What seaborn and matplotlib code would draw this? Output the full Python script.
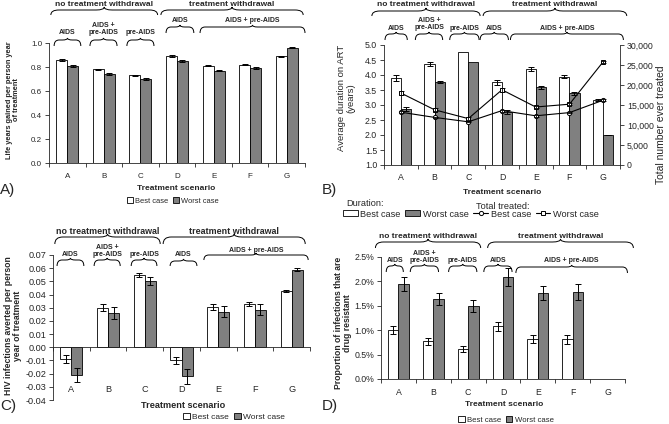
import numpy as np
import pandas as pd
import seaborn as sns
import matplotlib.pyplot as plt
from matplotlib.path import Path
from matplotlib.patches import PathPatch, Patch
from matplotlib.lines import Line2D
from matplotlib.transforms import Affine2D, blended_transform_factory
from matplotlib.ticker import FuncFormatter, MultipleLocator

W, H = 669, 424
GREY = '#808080'

scenarios = ['A', 'B', 'C', 'D', 'E', 'F', 'G']
cases = ['Best case', 'Worst case']

# A) life years gained per person year of treatment
life_best = [0.86, 0.78, 0.73, 0.89, 0.81, 0.82, 0.89]
life_worst = [0.81, 0.74, 0.70, 0.85, 0.77, 0.79, 0.96]
life_best_err = [0.008, 0.007, 0.005, 0.007, 0.005, 0.005, 0.004]
life_worst_err = [0.007, 0.006, 0.005, 0.010, 0.007, 0.006, 0.005]

# B) average duration on ART (years) and total number ever treated
dur_best = [3.90, 4.37, 4.76, 3.76, 4.20, 3.95, 3.17]
dur_worst = [2.87, 3.76, 4.42, 2.77, 3.59, 3.39, 2.00]
dur_best_err = [0.09, 0.07, np.nan, 0.08, 0.06, 0.04, 0.02]
dur_worst_err = [0.07, 0.04, np.nan, 0.07, 0.04, 0.04, 0.01]
treated_best = [13200, 11900, 10800, 13600, 12300, 13100, 16200]
treated_worst = [18000, 13800, 11600, 18800, 14500, 15200, 25800]
treated_best_err = [200, 200, 150, 250, 200, 200, 250]
treated_worst_err = [600, 400, 300, 500, 300, 300, 300]

# C) HIV infections averted per person year of treatment
inf_best = [-0.009, 0.030, 0.055, -0.010, 0.0305, 0.0325, 0.043]
inf_worst = [-0.021, 0.026, 0.050, -0.022, 0.027, 0.0285, 0.059]
inf_best_err = [0.003, 0.0025, 0.0015, 0.003, 0.002, 0.0015, 0.0008]
inf_worst_err = [0.0055, 0.0045, 0.003, 0.0058, 0.004, 0.004, 0.0015]

# D) proportion of infections that are drug resistant (%), nothing for G
res_best = [1.01, 0.77, 0.62, 1.08, 0.82, 0.81, np.nan]
res_worst = [1.95, 1.64, 1.49, 2.09, 1.76, 1.78, np.nan]
res_best_err = [0.085, 0.07, 0.06, 0.09, 0.08, 0.09, np.nan]
res_worst_err = [0.15, 0.13, 0.12, 0.18, 0.14, 0.16, np.nan]

sns.set_style('ticks')
plt.rcParams['font.family'] = ['Liberation Sans', 'DejaVu Sans']
plt.rcParams['axes.unicode_minus'] = False

fig = plt.figure(figsize=(W / 100, H / 100), dpi=100)
pix = Affine2D().scale(1 / W, -1 / H).translate(0, 1) + fig.transFigure


def px_axes(left, top, right, bottom):
    return fig.add_axes([left / W, 1 - bottom / H, (right - left) / W, (bottom - top) / H])


def fxy(x, y):
    return x / W, 1 - y / H


def long_df(best, worst, best_err, worst_err):
    df = pd.DataFrame({'scenario': scenarios * 2,
                       'case': np.repeat(cases, len(scenarios)),
                       'value': list(best) + list(worst),
                       'err': list(best_err) + list(worst_err)})
    return df.dropna(subset=['value'])


def bars(ax, df):
    sns.barplot(data=df, x='scenario', y='value', hue='case', order=scenarios, hue_order=cases,
                palette=['white', GREY], edgecolor='black', linewidth=0.6, width=0.6, gap=0,
                saturation=1, errorbar=None, legend=False, ax=ax)
    for case, cont in zip(cases, ax.containers):
        errs = df[df['case'] == case].set_index('scenario')['err']
        for rect in cont:
            cx = rect.get_x() + rect.get_width() / 2
            err = errs[scenarios[int(round(cx))]]
            if np.isnan(err):
                continue
            ax.errorbar(cx, rect.get_y() + rect.get_height(), yerr=err, fmt='none', ecolor='black',
                        elinewidth=0.7, capsize=2, capthick=0.7)


def style(ax, fs, pad):
    sns.despine(ax=ax)
    for s in ['left', 'bottom']:
        ax.spines[s].set_linewidth(0.6)
    ax.set_xlim(-0.5, 6.5)
    ax.set_xticks(range(len(scenarios)), scenarios)
    ax.set_xticks(np.arange(-0.5, len(scenarios)), minor=True)
    ax.tick_params(axis='x', which='major', length=0, pad=pad, labelsize=fs)
    ax.tick_params(axis='x', which='minor', length=3, width=0.6, direction='out')
    ax.tick_params(axis='y', length=3, width=0.6, direction='out', labelsize=fs, pad=2)
    ax.set_xlabel('')
    ax.set_ylabel('')


def brace(ax, x0, x1, yt, yb, label, ty, fs, r_px=5, peak=2):
    tr = blended_transform_factory(ax.transData, pix)
    cat_px = ax.get_position().width * W / len(scenarios)
    r = min(r_px / cat_px, (x1 - x0) / 4)
    xm = (x0 + x1) / 2
    verts = [(x0, yb), (x0, yt), (x0 + r, yt), (xm - r, yt), (xm, yt), (xm, yt - peak),
             (xm, yt), (xm + r, yt), (x1 - r, yt), (x1, yt), (x1, yb)]
    codes = [Path.MOVETO, Path.CURVE3, Path.CURVE3, Path.LINETO, Path.CURVE3, Path.CURVE3,
             Path.CURVE3, Path.CURVE3, Path.LINETO, Path.CURVE3, Path.CURVE3]
    fig.add_artist(PathPatch(Path(verts, codes), transform=tr, fill=False, lw=0.7, ec='black'))
    ax.text(xm, ty, label, transform=tr, ha='center', va='center', fontsize=fs,
            fontweight='bold', linespacing=1.0, clip_on=False)


def all_braces(ax, specs, main_fs, sub_fs):
    for x0, x1, yt, yb, label, ty in specs[:2]:
        brace(ax, x0, x1, yt, yb, label, ty, main_fs, r_px=8, peak=3)
    for x0, x1, yt, yb, label, ty in specs[2:]:
        brace(ax, x0, x1, yt, yb, label, ty, sub_fs)


def case_legend(x, y, fs):
    handles = [Patch(facecolor='white', edgecolor='black', lw=0.6),
               Patch(facecolor=GREY, edgecolor='black', lw=0.6)]
    fig.legend(handles, cases, loc='center', bbox_to_anchor=fxy(x, y), ncol=2, frameon=False,
               fontsize=fs, handlelength=0.8, handleheight=0.8, handletextpad=0.3,
               columnspacing=0.6, borderpad=0, borderaxespad=0)


def ylabel(x, y, text, fs, bold=True):
    fig.text(*fxy(x, y), text, rotation=90, ha='center', va='center', fontsize=fs,
             fontweight='bold' if bold else 'normal', linespacing=1.1)


def xlabel(x, y, fs):
    fig.text(*fxy(x, y), 'Treatment scenario', ha='center', va='center', fontsize=fs, fontweight='bold')


# ---------------- A ----------------
axA = px_axes(49, 43, 305, 163)
bars(axA, long_df(life_best, life_worst, life_best_err, life_worst_err))
style(axA, 5.8, 7)
axA.set_ylim(0, 1.0)
axA.yaxis.set_major_locator(MultipleLocator(0.2))
axA.yaxis.set_major_formatter(FuncFormatter(lambda v, p: f'{v:.1f}'))
all_braces(axA, [(-0.45, 2.47, 10, 15, 'no treatment withdrawal', 5),
                 (2.56, 6.45, 10, 15, 'treatment withdrawal', 5),
                 (-0.36, 0.37, 40, 46, 'AIDS', 33),
                 (0.62, 1.36, 40, 46, 'AIDS +\npre-AIDS', 29),
                 (1.63, 2.37, 40, 46, 'pre-AIDS', 33),
                 (2.70, 3.46, 27, 33, 'AIDS', 20),
                 (3.63, 6.50, 27, 33, 'AIDS + pre-AIDS', 20)], 6, 5)
ylabel(13, 100, 'Life years gained per person year\nof treatment', 5.3)
xlabel(176, 189, 6)
case_legend(173, 201, 5.4)
fig.text(*fxy(0, 190), 'A)', fontsize=11, va='center', ha='left')

# ---------------- B ----------------
axB = px_axes(384, 45, 620, 165)
bars(axB, long_df(dur_best, dur_worst, dur_best_err, dur_worst_err))
style(axB, 6.3, 6)
axB.set_ylim(1.0, 5.0)
axB.yaxis.set_major_locator(MultipleLocator(0.5))
axB.yaxis.set_major_formatter(FuncFormatter(lambda v, p: f'{v:.1f}'))

axB2 = axB.twinx()
treated = pd.DataFrame({'scenario': scenarios * 2,
                        'case': np.repeat(cases, len(scenarios)),
                        'value': treated_best + treated_worst})
sns.pointplot(data=treated, x='scenario', y='value', hue='case', order=scenarios, hue_order=cases,
              palette=['black', 'black'], markers=['o', 's'], linestyles=['-', '-'], errorbar=None,
              legend=False, ax=axB2, markersize=3, linewidth=0.8, markeredgewidth=0.7,
              markerfacecolor='white')
for line, errs in zip(axB2.lines[:2], [treated_best_err, treated_worst_err]):
    axB2.errorbar(line.get_xdata(), line.get_ydata(), yerr=errs, fmt='none', ecolor='black',
                  elinewidth=0.6, capsize=1.8, capthick=0.6)
axB2.set_ylim(0, 30000)
axB2.yaxis.set_major_locator(MultipleLocator(5000))
axB2.yaxis.set_major_formatter(FuncFormatter(lambda v, p: f'{v:,.0f}'))
axB2.set_ylabel('')
axB2.set_xlabel('')
for s in ['top', 'left', 'bottom']:
    axB2.spines[s].set_visible(False)
axB2.spines['right'].set_linewidth(0.6)
axB2.tick_params(axis='y', length=3, width=0.6, direction='out', labelsize=6.3, pad=2)
axB.set_xlim(-0.5, 6.5)

all_braces(axB, [(-0.86, 2.35, 11, 16, 'no treatment withdrawal', 4),
                 (2.44, 6.70, 11, 16, 'treatment withdrawal', 4),
                 (-0.47, 0.19, 34, 40, 'AIDS', 28),
                 (0.43, 1.24, 34, 40, 'AIDS +\npre-AIDS', 24),
                 (1.45, 2.32, 34, 40, 'pre-AIDS', 28),
                 (2.35, 3.19, 34, 40, 'AIDS', 28),
                 (3.25, 6.60, 34, 40, 'AIDS + pre-AIDS', 28)], 6, 5)
ylabel(346, 98, 'Average duration on ART\n(years)', 6.8, bold=False)
ylabel(661, 125, 'Total number ever treated', 7.5, bold=False)
xlabel(502, 192, 6)
fig.text(*fxy(346, 204), 'Duration:', fontsize=6.6, va='center', ha='left')
fig.text(*fxy(476, 206), 'Total treated:', fontsize=6.6, va='center', ha='left')
handlesB = [Patch(facecolor='white', edgecolor='black', lw=0.6),
            Patch(facecolor=GREY, edgecolor='black', lw=0.6),
            Line2D([], [], color='black', lw=0.8, marker='o', ms=3, mfc='white', mew=0.7),
            Line2D([], [], color='black', lw=0.8, marker='s', ms=3, mfc='white', mew=0.7)]
fig.legend(handlesB, cases * 2, loc='center', bbox_to_anchor=fxy(471, 214), ncol=4, frameon=False,
           fontsize=6.6, handlelength=1.6, handleheight=0.6, handletextpad=0.3,
           columnspacing=0.5, borderpad=0, borderaxespad=0)
fig.text(*fxy(322, 190), 'B)', fontsize=11, va='center', ha='left')

# ---------------- C ----------------
axC = px_axes(53, 255, 310, 400)
bars(axC, long_df(inf_best, inf_worst, inf_best_err, inf_worst_err))
style(axC, 6.6, 27)
axC.spines['bottom'].set_position(('data', 0))
axC.set_ylim(-0.04, 0.07)
axC.yaxis.set_major_locator(MultipleLocator(0.01))
axC.yaxis.set_major_formatter(FuncFormatter(lambda v, p: f'{v:.2f}'))
all_braces(axC, [(-0.45, 2.42, 237, 244, 'no treatment withdrawal', 231),
                 (2.50, 6.37, 237, 244, 'treatment withdrawal', 231),
                 (-0.39, 0.34, 260, 266, 'AIDS', 255),
                 (0.62, 1.33, 260, 266, 'AIDS +\npre-AIDS', 251),
                 (1.63, 2.33, 260, 266, 'pre-AIDS', 255),
                 (2.69, 3.42, 261, 266, 'AIDS', 255),
                 (3.61, 6.45, 255, 260, 'AIDS + pre-AIDS', 250)], 6.4, 5)
ylabel(13, 326, 'HIV infections averted per person\nyear of treatment', 6.2)
xlabel(183, 405, 6.6)
case_legend(234, 417, 6)
fig.text(*fxy(0, 406), 'C)', fontsize=11, va='center', ha='left')

# ---------------- D ----------------
axD = px_axes(381, 257, 625, 379)
bars(axD, long_df(res_best, res_worst, res_best_err, res_worst_err))
style(axD, 6.3, 6.5)
axD.set_ylim(0, 2.5)
axD.yaxis.set_major_locator(MultipleLocator(0.5))
axD.yaxis.set_major_formatter(FuncFormatter(lambda v, p: f'{v:.1f}%'))
all_braces(axD, [(-0.66, 2.36, 242, 248, 'no treatment withdrawal', 236),
                 (2.56, 6.74, 242, 248, 'treatment withdrawal', 236),
                 (-0.35, 0.14, 266, 272, 'AIDS', 261),
                 (0.34, 1.15, 266, 272, 'AIDS +\npre-AIDS', 257),
                 (1.44, 2.25, 266, 272, 'pre-AIDS', 261),
                 (2.45, 3.26, 266, 272, 'AIDS', 261),
                 (3.37, 6.57, 267, 273, 'AIDS + pre-AIDS', 261)], 6, 5)
ylabel(343, 323, 'Proportion of infections that are\ndrug resistant', 6.2)
xlabel(504, 405, 6)
case_legend(506, 420, 5.6)
fig.text(*fxy(322, 406), 'D)', fontsize=11, va='center', ha='left')

fig.savefig('out.png', dpi=100)
